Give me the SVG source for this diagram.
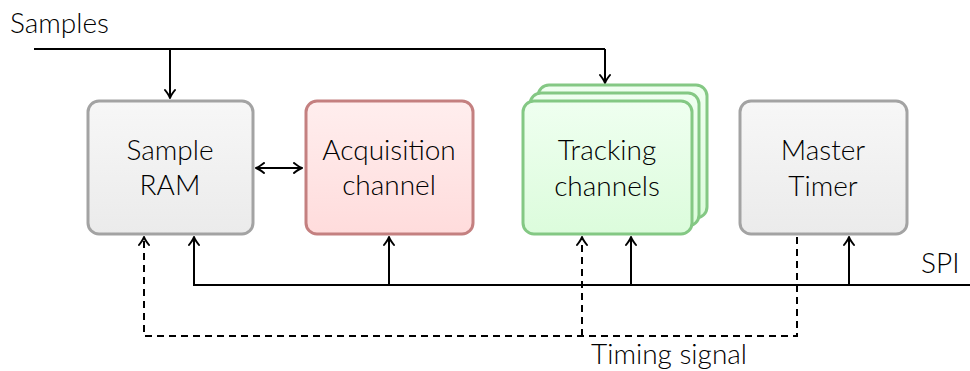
<svg xmlns="http://www.w3.org/2000/svg" width="970" height="371" viewBox="0 0 970 371">
<style>
text{font-family:Lato,"Open Sans","DejaVu Sans",sans-serif;font-size:28px;font-weight:300;fill:#000;}
.c{text-anchor:middle;}
.w{fill:none;stroke:#000;stroke-width:2;}
.d{fill:none;stroke:#000;stroke-width:2;stroke-dasharray:7,5;}
.gray{fill:url(#gg);stroke:#a3a3a3;stroke-width:3;}
.red{fill:url(#gr);stroke:#c48080;stroke-width:3;}
.grn{fill:url(#gn);stroke:#84c884;stroke-width:3;}
</style>
<defs>
<linearGradient id="gg" x1="0" y1="0" x2="0" y2="1"><stop offset="0" stop-color="#f7f7f7"/><stop offset="1" stop-color="#ebebeb"/></linearGradient>
<linearGradient id="gr" x1="0" y1="0" x2="0" y2="1"><stop offset="0" stop-color="#ffeeee"/><stop offset="1" stop-color="#ffdcdc"/></linearGradient>
<linearGradient id="gn" x1="0" y1="0" x2="0" y2="1"><stop offset="0" stop-color="#effff0"/><stop offset="1" stop-color="#dcfcdc"/></linearGradient>
<marker id="ah" viewBox="-10 -6 12 12" refX="0" refY="0" markerWidth="12" markerHeight="12" markerUnits="userSpaceOnUse" orient="auto-start-reverse">
<path d="M-8,-5 Q-3,-1 0,0 Q-3,1 -8,5" fill="none" stroke="#000" stroke-width="2" stroke-linecap="round" stroke-linejoin="round"/>
</marker>
</defs>
<text x="10" y="33">Samples</text>
<g id="connectors">
<path class="w" d="M34,49 H605"/>
<path class="w" d="M170,49 V98" marker-end="url(#ah)"/>
<path class="w" d="M605,49 V83" marker-end="url(#ah)"/>
<path class="w" d="M256,168 H302" marker-start="url(#ah)" marker-end="url(#ah)"/>
<path class="w" d="M970,285 H194 V237" marker-end="url(#ah)"/>
<path class="w" d="M389,285 V237" marker-end="url(#ah)"/>
<path class="w" d="M631,285 V237" marker-end="url(#ah)"/>
<path class="w" d="M849,285 V237" marker-end="url(#ah)"/>
<path class="d" d="M797,237 V336 H144 V237" marker-end="url(#ah)"/>
<path class="d" d="M582,336 V237" marker-end="url(#ah)"/>
</g>
<g id="sample-ram">
<rect class="gray" x="88" y="101" width="165" height="133" rx="11"/>
<text class="c" x="170" y="160">Sample</text>
<text class="c" x="170" y="195">RAM</text>
</g>
<g id="acquisition">
<rect class="red" x="306" y="101" width="167" height="133" rx="11"/>
<text class="c" x="389" y="160">Acquisition</text>
<text class="c" x="389" y="195">channel</text>
</g>
<g id="tracking">
<rect class="grn" x="538" y="85" width="169" height="133" rx="11"/>
<rect class="grn" x="530" y="93" width="169" height="133" rx="11"/>
<rect class="grn" x="523" y="101" width="169" height="133" rx="11"/>
<text class="c" x="607" y="160">Tracking</text>
<text class="c" x="607" y="196">channels</text>
</g>
<g id="master-timer">
<rect class="gray" x="740" y="101" width="167" height="133" rx="11"/>
<text class="c" x="823" y="160">Master</text>
<text class="c" x="823" y="196">Timer</text>
</g>
<text x="921" y="273">SPI</text>
<text x="591" y="364">Timing signal</text>
</svg>
